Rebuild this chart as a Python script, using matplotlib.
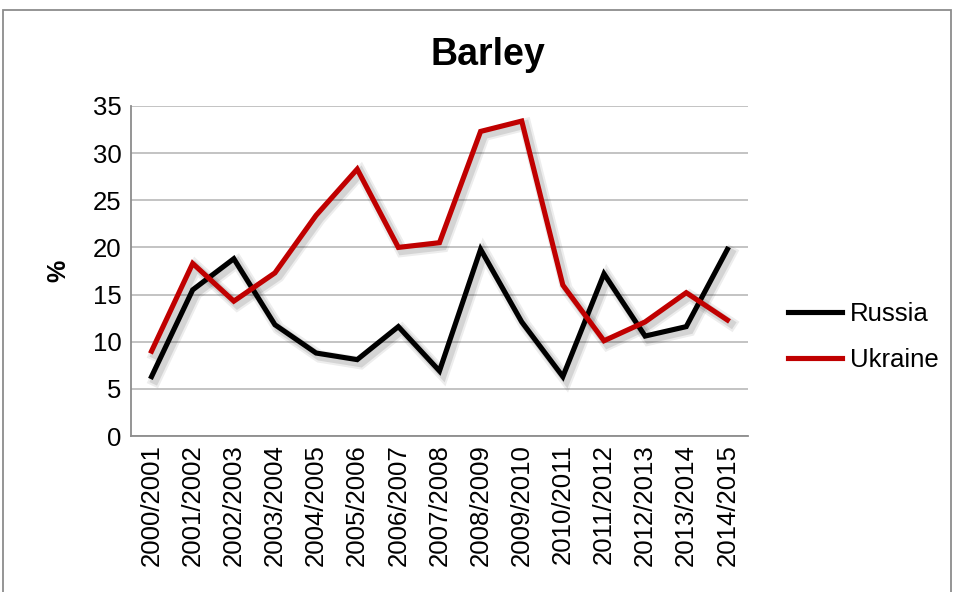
import matplotlib.pyplot as plt
import matplotlib.patheffects as pe
from matplotlib.lines import Line2D
from matplotlib.patches import Rectangle

plt.rcParams['font.family'] = ['Liberation Sans', 'DejaVu Sans']

seasons = ['2000/2001', '2001/2002', '2002/2003', '2003/2004', '2004/2005',
           '2005/2006', '2006/2007', '2007/2008', '2008/2009', '2009/2010',
           '2010/2011', '2011/2012', '2012/2013', '2013/2014', '2014/2015']
russia = [6.3, 15.5, 18.8, 11.8, 8.8, 8.1, 11.6, 6.9, 19.8, 12.1,
          6.3, 17.2, 10.6, 11.6, 19.8]
ukraine = [9.0, 18.3, 14.3, 17.3, 23.4, 28.3, 20.0, 20.5, 32.3, 33.4,
           16.0, 10.1, 12.1, 15.2, 12.3]
y_ticks = [0, 5, 10, 15, 20, 25, 30, 35]
colors = {'Russia': '#000000', 'Ukraine': '#C00000'}

fig = plt.figure(figsize=(9.54, 5.92), dpi=100)
ax = fig.add_axes([0.1373, 0.2635, 0.6467, 0.5575])

# soft drop shadow under each series
shadow = [pe.SimpleLineShadow(offset=(2.5, -2.5), shadow_color='#000000', alpha=0.07, linewidth=9),
          pe.SimpleLineShadow(offset=(2.5, -2.5), shadow_color='#000000', alpha=0.10, linewidth=6),
          pe.Normal()]

x = range(len(seasons))
ax.plot(x, russia, color=colors['Russia'], lw=3.7,
        solid_joinstyle='miter', path_effects=shadow, zorder=3)
ax.plot(x, ukraine, color=colors['Ukraine'], lw=3.7,
        solid_joinstyle='miter', path_effects=shadow, zorder=3)

ax.set_xlim(-0.5, len(seasons) - 0.5)
ax.set_ylim(0, 35)
ax.set_yticks(y_ticks)
ax.set_xticks(list(x))
ax.set_xticklabels(seasons, rotation=90)
ax.tick_params(axis='both', length=0, labelsize=18.5, pad=6)
ax.tick_params(axis='y', pad=7)

ax.yaxis.grid(True, color='#BEBEBE', lw=1.3)
ax.set_axisbelow(True)
for side in ['top', 'right']:
    ax.spines[side].set_visible(False)
for side in ['left', 'bottom']:
    ax.spines[side].set_color('#8C8C8C')
    ax.spines[side].set_linewidth(1.3)

ax.set_ylabel('%', fontsize=18, fontweight='bold', labelpad=16)
fig.text(0.511, 0.907, 'Barley', ha='center', va='center',
         fontsize=27, fontweight='bold')

# plain legend keys, without the shadow
handles = [Line2D([], [], color=c, lw=3.7) for c in colors.values()]
ax.legend(handles, list(colors), loc='center left',
          bbox_to_anchor=(788 / 954, 1 - 337 / 592),
          bbox_transform=fig.transFigure, frameon=False,
          fontsize=18.5, handlelength=2.1, handletextpad=0.3,
          labelspacing=0.85, borderaxespad=0, borderpad=0)

fig.patches.append(Rectangle((3 / 954, -0.05), 948 / 954, 1.05 - 10 / 592,
                             transform=fig.transFigure, fill=False,
                             edgecolor='#8C8C8C', lw=1.3))

fig.savefig('out.png', dpi=100)
